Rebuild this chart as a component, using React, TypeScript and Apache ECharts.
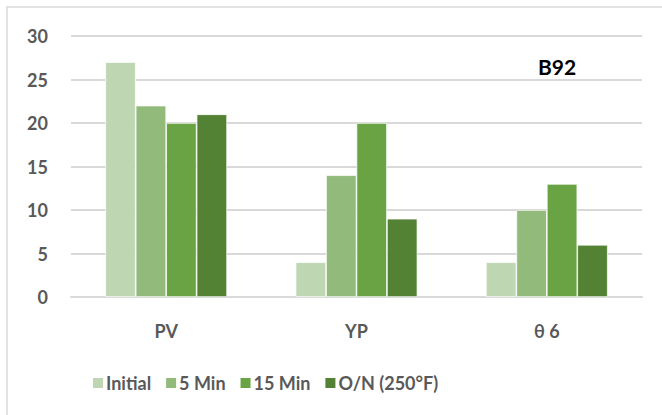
import React, { useEffect, useRef } from "react";
import * as echarts from "echarts";

const categories = ["PV", "YP", "θ 6"];
const seriesNames = ["Initial", "5 Min", "15 Min", "O/N (250°F)"];
const initialValues = [27, 4, 4];
const fiveMinValues = [22, 14, 10];
const fifteenMinValues = [20, 20, 13];
const overnightValues = [21, 9, 6];
const colors = ["#BFD6B3", "#92BB7B", "#6AA343", "#548235"];

export default function App() {
  const ref = useRef<HTMLDivElement>(null);
  useEffect(() => {
    if (!ref.current) return;
    const chart = echarts.init(ref.current, undefined, { renderer: "svg" });
    const data = [initialValues, fiveMinValues, fifteenMinValues, overnightValues];
    const font = "Lato, 'Open Sans', sans-serif";
    chart.setOption({
      animation: false,
      graphic: [
        {
          type: "rect",
          shape: { x: 7, y: 7, width: 700, height: 420 },
          style: { fill: "none", stroke: "#d9d9d9", lineWidth: 1.5 },
          silent: true,
        },
        {
          type: "text",
          x: 538,
          y: 66,
          style: { text: "B92", font: "bold 21px " + font, fill: "#000", verticalAlign: "middle" },
        },
      ],
      grid: { left: 71, right: 20, top: 36, bottom: 118, containLabel: false },
      legend: {
        top: 369,
        left: 86,
        itemWidth: 12,
        itemHeight: 12,
        itemGap: 13,
        icon: "rect",
        textStyle: { fontFamily: font, fontSize: 18, fontWeight: "bold", color: "#595959", padding: [0, 0, 0, -3] },
        data: seriesNames,
      },
      xAxis: {
        type: "category",
        data: categories,
        axisLine: { lineStyle: { color: "#d9d9d9", width: 2 } },
        axisTick: { show: false },
        axisLabel: { fontFamily: font, fontSize: 18, fontWeight: "bold", color: "#595959", margin: 25 },
      },
      yAxis: {
        type: "value",
        min: 0,
        max: 30,
        interval: 5,
        axisLine: { show: false },
        axisTick: { show: false },
        splitLine: { lineStyle: { color: "#d9d9d9", width: 2 } },
        axisLabel: { fontFamily: font, fontSize: 18, fontWeight: "bold", color: "#595959", margin: 23 },
      },
      series: seriesNames.map((name, i) => ({
        name,
        type: "bar",
        data: data[i],
        barGap: "0%",
        barCategoryGap: "36%",
        itemStyle: { color: colors[i], borderColor: "#ffffff", borderWidth: 0.7 },
      })),
    });
    return () => chart.dispose();
  }, []);
  return <div ref={ref} style={{ position: "absolute", left: 0, top: 0, width: 662, height: 415 }} />;
}
